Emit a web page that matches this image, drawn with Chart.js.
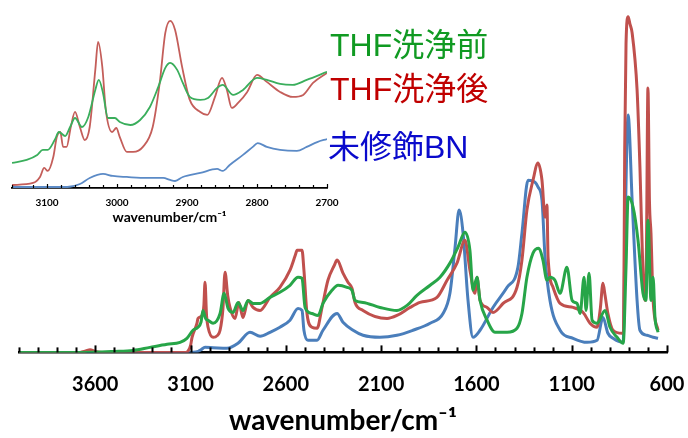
<!DOCTYPE html>
<html>
<head>
<meta charset="utf-8">
<script src="https://cdn.jsdelivr.net/npm/chart.js@4.4.1/dist/chart.umd.min.js"></script>
<style>
  html, body { margin: 0; padding: 0; background: #fff; }
  #wrap { position: relative; width: 688px; height: 438px; overflow: hidden; }
  #main, #inset { position: absolute; left: 0; top: 0; }
  .lbl { position: absolute; font-family: "Liberation Sans", "Noto Sans CJK JP", sans-serif;
         font-size: 32px; line-height: 32px; white-space: nowrap; }
</style>
</head>
<body>
<div id="wrap">
  <canvas id="main" width="688" height="438"></canvas>
  <canvas id="inset" width="340" height="226"></canvas>
  <div class="lbl" style="left:330px; top:29px; color:#109a22">THF洗浄前</div>
  <div class="lbl" style="left:330px; top:73px; color:#c00000">THF洗浄後</div>
  <div class="lbl" style="left:328px; top:131px; color:#0a0acc">未修飾BN</div>
</div>
<script>
// --- main spectrum (wavenumber / cm-1, absorbance a.u.) ---
const greenWn = [4000, 3680, 3500, 3402, 3313, 3223, 3155, 3119, 3087, 3061, 3045, 3035, 3020, 3008, 2982, 2945, 2924, 2903, 2877, 2851, 2825, 2798, 2772, 2735, 2683, 2631, 2578, 2536, 2515, 2499, 2463, 2431, 2405, 2358, 2326, 2279, 2253, 2237, 2195, 2106, 2017, 1964, 1912, 1843, 1791, 1739, 1697, 1660, 1634, 1618, 1597, 1581, 1544, 1502, 1439, 1387, 1361, 1335, 1303, 1272, 1251, 1230, 1214, 1188, 1161, 1125, 1098, 1072, 1056, 1035, 1025, 1009, 993, 967, 925, 899, 862, 830, 815, 804, 778, 752, 726, 710, 700, 684, 673, 663, 647];
const greenAbs = [0, 0, 0.003, 0.006, 0.015, 0.024, 0.030, 0.042, 0.066, 0.075, 0.09, 0.125, 0.10, 0.096, 0.087, 0.116, 0.176, 0.131, 0.119, 0.149, 0.125, 0.155, 0.146, 0.146, 0.164, 0.179, 0.200, 0.224, 0.221, 0.134, 0.116, 0.110, 0.146, 0.185, 0.200, 0.194, 0.185, 0.155, 0.149, 0.134, 0.125, 0.140, 0.170, 0.200, 0.224, 0.266, 0.313, 0.358, 0.304, 0.185, 0.224, 0.155, 0.096, 0.060, 0.060, 0.072, 0.116, 0.224, 0.296, 0.310, 0.275, 0.215, 0.224, 0.215, 0.176, 0.254, 0.155, 0.146, 0.116, 0.224, 0.125, 0.236, 0.096, 0.087, 0.125, 0.075, 0.045, 0.027, 0.254, 0.463, 0.433, 0.334, 0.176, 0.155, 0.394, 0.155, 0.224, 0.104, 0.060];

const redWn = [4000, 3680, 3650, 3627, 3600, 3560, 3125, 3113, 3100, 3092, 3066, 3061, 3040, 3030, 3024, 3016, 3008, 2982, 2960, 2945, 2930, 2919, 2905, 2893, 2867, 2846, 2825, 2798, 2772, 2735, 2683, 2631, 2578, 2550, 2541, 2515, 2505, 2489, 2463, 2436, 2410, 2379, 2345, 2331, 2300, 2274, 2253, 2237, 2195, 2069, 2017, 1948, 1896, 1807, 1754, 1702, 1660, 1634, 1607, 1597, 1581, 1544, 1513, 1460, 1387, 1361, 1335, 1303, 1277, 1256, 1240, 1230, 1224, 1198, 1161, 1093, 1040, 1004, 967, 950, 936, 925, 910, 883, 836, 828, 822, 815, 804, 795, 783, 757, 742, 726, 715, 708, 700, 692, 684, 673, 647];
const redAbs = [0, 0, 0.004, 0.008, 0.003, 0, 0, 0.004, 0.02, 0.045, 0.087, 0.101, 0.11, 0.14, 0.209, 0.11, 0.075, 0.045, 0.05, 0.066, 0.13, 0.239, 0.17, 0.134, 0.101, 0.149, 0.104, 0.155, 0.134, 0.125, 0.164, 0.194, 0.245, 0.29, 0.304, 0.304, 0.245, 0.116, 0.075, 0.072, 0.134, 0.215, 0.26, 0.275, 0.236, 0.209, 0.191, 0.149, 0.125, 0.101, 0.110, 0.134, 0.149, 0.164, 0.215, 0.266, 0.334, 0.245, 0.176, 0.224, 0.155, 0.134, 0.119, 0.146, 0.194, 0.275, 0.424, 0.513, 0.564, 0.513, 0.403, 0.439, 0.284, 0.194, 0.146, 0.134, 0.119, 0.087, 0.075, 0.13, 0.206, 0.17, 0.116, 0.066, 0.057, 0.06, 0.6, 0.92, 1.0, 0.98, 0.952, 0.782, 0.552, 0.236, 0.155, 0.3, 0.788, 0.45, 0.355, 0.155, 0.066];

const blueWn = [4000, 3120, 3060, 3045, 3024, 2982, 2909, 2851, 2788, 2735, 2683, 2631, 2578, 2536, 2515, 2505, 2484, 2436, 2405, 2331, 2300, 2247, 2195, 2106, 2017, 1933, 1843, 1775, 1739, 1712, 1691, 1670, 1644, 1618, 1581, 1513, 1439, 1382, 1361, 1329, 1293, 1277, 1256, 1240, 1214, 1161, 1093, 1019, 967, 936, 910, 883, 830, 820, 804, 783, 757, 742, 705, 673, 647];
const blueAbs = [0, 0, 0.003, 0.008, 0.015, 0.014, 0.012, 0.027, 0.060, 0.048, 0.060, 0.075, 0.096, 0.131, 0.125, 0.066, 0.036, 0.036, 0.066, 0.116, 0.090, 0.066, 0.051, 0.045, 0.051, 0.066, 0.087, 0.116, 0.176, 0.313, 0.424, 0.355, 0.155, 0.045, 0.066, 0.134, 0.194, 0.254, 0.355, 0.513, 0.507, 0.493, 0.454, 0.284, 0.155, 0.066, 0.042, 0.030, 0.036, 0.104, 0.057, 0.042, 0.030, 0.355, 0.707, 0.454, 0.155, 0.066, 0.051, 0.045, 0.042];

// --- inset: 3150-2700 cm-1 region ---
const insetGreenWn = [3150, 3129, 3114, 3106, 3099, 3089, 3083, 3074, 3067, 3060, 3050, 3041, 3031, 3026, 3020, 3013, 3003, 2996, 2981, 2967, 2953, 2941, 2931, 2924, 2914, 2906, 2896, 2881, 2870, 2857, 2849, 2834, 2820, 2800, 2786, 2767, 2749, 2729, 2700];
const insetGreenAbs = [0.150, 0.168, 0.198, 0.228, 0.228, 0.287, 0.335, 0.311, 0.365, 0.419, 0.365, 0.425, 0.587, 0.647, 0.569, 0.419, 0.419, 0.395, 0.377, 0.407, 0.485, 0.605, 0.719, 0.749, 0.707, 0.629, 0.545, 0.527, 0.539, 0.599, 0.617, 0.557, 0.587, 0.659, 0.647, 0.623, 0.617, 0.647, 0.695];

const insetRedWn = [3150, 3120, 3110, 3104, 3099, 3091, 3086, 3081, 3077, 3072, 3066, 3060, 3053, 3046, 3039, 3031, 3027, 3021, 3016, 3007, 3001, 2996, 2986, 2977, 2963, 2949, 2939, 2931, 2924, 2917, 2907, 2896, 2881, 2871, 2860, 2850, 2843, 2836, 2827, 2814, 2800, 2786, 2767, 2749, 2734, 2720, 2700];
const insetRedAbs = [0.018, 0.030, 0.066, 0.120, 0.102, 0.186, 0.305, 0.335, 0.246, 0.246, 0.365, 0.455, 0.365, 0.287, 0.365, 0.707, 0.874, 0.725, 0.467, 0.335, 0.359, 0.305, 0.216, 0.216, 0.246, 0.365, 0.629, 0.928, 1.0, 0.946, 0.725, 0.527, 0.455, 0.437, 0.545, 0.659, 0.587, 0.479, 0.509, 0.575, 0.677, 0.635, 0.575, 0.545, 0.557, 0.629, 0.689];

const insetBlueWn = [3150, 3071, 3053, 3039, 3020, 3006, 2986, 2957, 2934, 2924, 2917, 2906, 2881, 2857, 2849, 2839, 2820, 2806, 2799, 2786, 2767, 2743, 2729, 2714, 2700];
const insetBlueAbs = [0.006, 0.006, 0.024, 0.060, 0.084, 0.072, 0.066, 0.060, 0.060, 0.048, 0.042, 0.066, 0.090, 0.114, 0.102, 0.138, 0.198, 0.246, 0.269, 0.246, 0.228, 0.222, 0.246, 0.275, 0.293];

const GREEN = '#27a548';
const RED = '#c0504d';
const BLUE = '#4a7ebb';

Chart.defaults.font.family = 'Lato, "Open Sans", sans-serif';
Chart.defaults.color = '#000';

const pts = (xs, ys) => xs.map((x, i) => ({ x: x, y: ys[i] }));

// ticks pointing up into the plot, like the original
const innerTicks = {
  id: 'innerTicks',
  afterDraw(chart, args, opts) {
    const sx = chart.scales.x;
    const ctx = chart.ctx;
    const y0 = chart.chartArea.bottom;
    ctx.save();
    ctx.strokeStyle = '#000';
    ctx.lineWidth = opts.width;
    sx.ticks.forEach(t => {
      const px = Math.round(sx.getPixelForValue(t.value)) + 0.5;
      const len = t.label ? opts.major : opts.minor;
      ctx.beginPath();
      ctx.moveTo(px, y0);
      ctx.lineTo(px, y0 - len);
      ctx.stroke();
    });
    ctx.restore();
  }
};

function spectrumChart(canvas, sets, cfg) {
  return new Chart(canvas, {
    type: 'line',
    data: {
      datasets: sets.map(s => ({
        label: s.label,
        data: s.data,
        borderColor: s.color,
        borderWidth: cfg.lineWidth,
        fill: false
      }))
    },
    options: {
      responsive: false,
      animation: false,
      devicePixelRatio: 1,
      layout: { padding: cfg.padding },
      elements: {
        point: { radius: 0 },
        line: { cubicInterpolationMode: 'monotone' }
      },
      plugins: {
        legend: { display: false },
        tooltip: { enabled: false },
        innerTicks: cfg.ticks
      },
      scales: {
        x: {
          type: 'linear',
          reverse: true,
          min: cfg.min,
          max: cfg.max,
          grid: { display: false, drawTicks: false },
          border: { display: true, color: '#000', width: cfg.axisWidth },
          ticks: {
            stepSize: cfg.step,
            autoSkip: false,
            maxRotation: 0,
            padding: 0,
            // tall line box instead of padding, so the end labels don't shrink the plot
            font: { size: cfg.tickFont, weight: 'bold', lineHeight: cfg.tickLine },
            callback: cfg.label
          },
          title: {
            display: true,
            text: 'wavenumber/cm⁻¹',
            font: { size: cfg.titleFont, weight: 'bold' },
            padding: cfg.titlePad
          }
        },
        y: { display: false, min: 0, max: cfg.yMax }
      }
    },
    plugins: [innerTicks]
  });
}

spectrumChart(document.getElementById('main'), [
  { label: 'THF洗浄前', data: pts(greenWn, greenAbs), color: GREEN },
  { label: 'THF洗浄後', data: pts(redWn, redAbs), color: RED },
  { label: '未修飾BN', data: pts(blueWn, blueAbs), color: BLUE }
], {
  lineWidth: 3,
  padding: { left: 19, right: 21, top: 0, bottom: 0 },
  min: 600, max: 4000, step: 100,
  label: v => ((v - 100) % 500 === 0 ? String(v) : ''),
  tickFont: 20, tickLine: 3.2,
  titleFont: 28, titlePad: { top: -12, bottom: 0 },
  axisWidth: 2.5,
  yMax: 1.05,
  ticks: { width: 2, major: 7, minor: 5 }
});

spectrumChart(document.getElementById('inset'), [
  { label: 'THF洗浄前', data: pts(insetGreenWn, insetGreenAbs), color: '#3aae5c' },
  { label: 'THF洗浄後', data: pts(insetRedWn, insetRedAbs), color: '#c45e5a' },
  { label: '未修飾BN', data: pts(insetBlueWn, insetBlueAbs), color: '#5b8ac6' }
], {
  lineWidth: 1.8,
  padding: { left: 12, right: 13, top: 0, bottom: 0 },
  min: 2700, max: 3150, step: 20,
  label: v => (v % 100 === 0 ? String(v) : ''),
  tickFont: 10, tickLine: 3.0,
  titleFont: 14, titlePad: { top: -8.8, bottom: 0 },
  axisWidth: 1.8,
  yMax: 1.125,
  ticks: { width: 1.2, major: 4, minor: 3 }
});
</script>
</body>
</html>
